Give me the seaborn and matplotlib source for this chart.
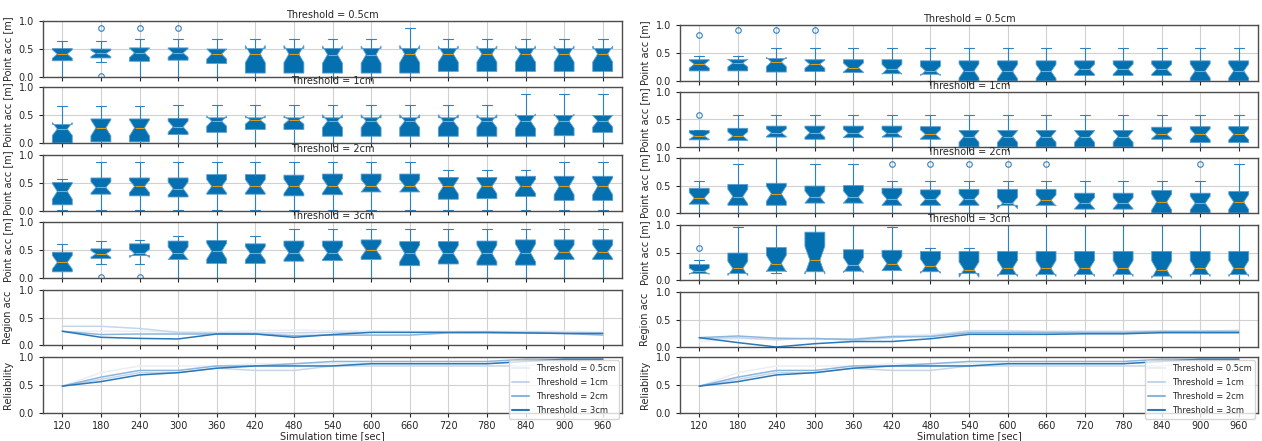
import numpy as np
import pandas as pd
import matplotlib
matplotlib.use("Agg")
import matplotlib.pyplot as plt
import seaborn as sns

# ---------------- data ----------------
times = [120, 180, 240, 300, 360, 420, 480, 540, 600, 660, 720, 780, 840, 900, 960]
thresholds = ["Threshold = 0.5cm", "Threshold = 1cm", "Threshold = 2cm", "Threshold = 3cm"]

# Left panel box statistics (rows: 0.5cm, 1cm, 2cm, 3cm)
left_whislo = [
    [0, 0.27, 0, 0, 0, 0, 0, 0, 0, 0, 0, 0, 0, 0, 0],
    [0, 0, 0, 0, 0, 0, 0, 0, 0, 0, 0, 0, 0, 0, 0],
    [0.01] * 15,
    [0, 0.25, 0.25, 0, 0, 0, 0, 0, 0, 0, 0, 0, 0, 0, 0],
]
left_q1 = [
    [0.29, 0.34, 0.28, 0.30, 0.24, 0.07, 0.07, 0.07, 0.07, 0.07, 0.10, 0.10, 0.10, 0.10, 0.10],
    [0.00, 0.02, 0.02, 0.15, 0.19, 0.24, 0.24, 0.12, 0.12, 0.12, 0.12, 0.12, 0.12, 0.13, 0.19],
    [0.11, 0.30, 0.27, 0.25, 0.30, 0.30, 0.27, 0.29, 0.34, 0.34, 0.21, 0.22, 0.26, 0.19, 0.19],
    [0.11, 0.35, 0.40, 0.33, 0.26, 0.26, 0.30, 0.31, 0.33, 0.22, 0.25, 0.23, 0.23, 0.33, 0.33],
]
left_med = [
    [0.41, 0.42, 0.43, 0.43, 0.41, 0.41, 0.41, 0.40, 0.40, 0.41, 0.41, 0.41, 0.41, 0.41, 0.41],
    [0.25, 0.27, 0.27, 0.29, 0.39, 0.41, 0.41, 0.39, 0.39, 0.39, 0.39, 0.39, 0.39, 0.39, 0.39],
    [0.35, 0.42, 0.44, 0.40, 0.44, 0.44, 0.44, 0.45, 0.45, 0.45, 0.44, 0.44, 0.44, 0.44, 0.44],
    [0.28, 0.43, 0.44, 0.44, 0.48, 0.44, 0.45, 0.45, 0.50, 0.44, 0.44, 0.44, 0.45, 0.47, 0.47],
]
left_q3 = [
    [0.51, 0.50, 0.52, 0.52, 0.50, 0.51, 0.51, 0.51, 0.51, 0.51, 0.51, 0.51, 0.51, 0.51, 0.51],
    [0.33, 0.43, 0.43, 0.44, 0.45, 0.45, 0.45, 0.45, 0.45, 0.45, 0.45, 0.45, 0.49, 0.49, 0.49],
    [0.51, 0.59, 0.59, 0.59, 0.65, 0.65, 0.64, 0.66, 0.66, 0.66, 0.60, 0.60, 0.62, 0.62, 0.62],
    [0.46, 0.52, 0.61, 0.66, 0.67, 0.61, 0.66, 0.66, 0.68, 0.65, 0.65, 0.66, 0.68, 0.68, 0.68],
]
left_whishi = [
    [0.65, 0.64, 0.68, 0.68, 0.68, 0.68, 0.68, 0.68, 0.68, 0.87, 0.68, 0.68, 0.68, 0.68, 0.68],
    [0.66, 0.66, 0.66, 0.68, 0.68, 0.68, 0.68, 0.68, 0.68, 0.68, 0.68, 0.68, 0.87, 0.87, 0.87],
    [0.58, 0.87, 0.87, 0.87, 0.87, 0.87, 0.87, 0.87, 0.87, 0.87, 0.74, 0.74, 0.74, 0.87, 0.87],
    [0.60, 0.66, 0.68, 0.75, 1.00, 0.75, 0.87, 0.87, 0.87, 0.87, 0.87, 0.87, 0.87, 0.87, 0.87],
]
left_fliers = [
    [[], [0.87, 0.02], [0.87], [0.87], [], [], [], [], [], [], [], [], [], [], []],
    [[]] * 15,
    [[]] * 15,
    [[], [0.02], [0.02], [], [], [], [], [], [], [], [], [], [], [], []],
]

# Right panel box statistics (rows: 0.5cm, 1cm, 2cm, 3cm)
right_whislo = [
    [0] * 15,
    [0] * 15,
    [0] * 15,
    [0, 0, 0.13, 0, 0, 0, 0, 0, 0, 0, 0, 0, 0, 0, 0],
]
right_q1 = [
    [0.18, 0.18, 0.16, 0.17, 0.15, 0.13, 0.12, 0.00, 0.00, 0.00, 0.10, 0.10, 0.10, 0.00, 0.00],
    [0.13, 0.12, 0.18, 0.14, 0.17, 0.18, 0.14, 0.00, 0.00, 0.00, 0.00, 0.00, 0.14, 0.08, 0.08],
    [0.16, 0.14, 0.14, 0.18, 0.18, 0.14, 0.14, 0.14, 0.14, 0.14, 0.07, 0.07, 0.00, 0.00, 0.00],
    [0.12, 0.12, 0.16, 0.15, 0.16, 0.17, 0.15, 0.12, 0.10, 0.10, 0.10, 0.10, 0.07, 0.10, 0.10],
]
right_med = [
    [0.30, 0.32, 0.34, 0.30, 0.24, 0.21, 0.18, 0.18, 0.17, 0.17, 0.21, 0.21, 0.21, 0.18, 0.18],
    [0.20, 0.20, 0.26, 0.26, 0.25, 0.25, 0.23, 0.19, 0.19, 0.19, 0.19, 0.19, 0.23, 0.23, 0.23],
    [0.27, 0.30, 0.35, 0.29, 0.29, 0.25, 0.25, 0.25, 0.18, 0.23, 0.18, 0.18, 0.20, 0.18, 0.20],
    [0.16, 0.21, 0.30, 0.36, 0.27, 0.30, 0.25, 0.19, 0.21, 0.21, 0.21, 0.21, 0.19, 0.21, 0.21],
]
right_q3 = [
    [0.38, 0.38, 0.40, 0.38, 0.38, 0.38, 0.36, 0.36, 0.36, 0.36, 0.36, 0.36, 0.36, 0.36, 0.36],
    [0.30, 0.34, 0.38, 0.38, 0.38, 0.38, 0.37, 0.30, 0.30, 0.30, 0.30, 0.30, 0.36, 0.37, 0.37],
    [0.45, 0.52, 0.54, 0.49, 0.50, 0.45, 0.42, 0.43, 0.43, 0.43, 0.36, 0.36, 0.41, 0.36, 0.39],
    [0.28, 0.49, 0.59, 0.87, 0.55, 0.54, 0.52, 0.52, 0.52, 0.52, 0.52, 0.52, 0.52, 0.52, 0.52],
]
right_whishi = [
    [0.44, 0.44, 0.59, 0.59, 0.59, 0.59, 0.59, 0.59, 0.59, 0.59, 0.59, 0.59, 0.59, 0.59, 0.59],
    [0.30, 0.58, 0.58, 0.58, 0.58, 0.58, 0.58, 0.58, 0.58, 0.58, 0.58, 0.58, 0.58, 0.58, 0.58],
    [0.58, 0.89, 1.00, 0.89, 0.89, 0.58, 0.58, 0.58, 0.58, 0.58, 0.58, 0.58, 0.58, 0.58, 0.89],
    [0.36, 0.96, 1.00, 1.00, 1.00, 0.96, 0.59, 0.59, 1.00, 1.00, 1.00, 1.00, 1.00, 1.00, 1.00],
]
right_fliers = [
    [[0.82], [0.91], [0.91], [0.91], [], [], [], [], [], [], [], [], [], [], []],
    [[0.58], [], [], [], [], [], [], [], [], [], [], [], [], [], []],
    [[], [], [], [], [], [0.89], [0.89], [0.89], [0.89], [0.89], [], [], [], [0.89], []],
    [[0.59], [], [], [], [], [], [], [], [], [], [], [], [], [], []],
]

# Region accuracy lines
left_region_05 = [0.24, 0.25, 0.25, 0.23, 0.24, 0.26, 0.27, 0.26, 0.26, 0.25, 0.25, 0.25, 0.25, 0.25, 0.24]
left_region_1 = [0.34, 0.34, 0.30, 0.23, 0.22, 0.22, 0.22, 0.23, 0.23, 0.23, 0.23, 0.24, 0.24, 0.23, 0.22]
left_region_2 = [0.25, 0.19, 0.20, 0.20, 0.20, 0.20, 0.17, 0.18, 0.18, 0.18, 0.22, 0.22, 0.22, 0.21, 0.18]
left_region_3 = [0.25, 0.14, 0.12, 0.11, 0.20, 0.20, 0.14, 0.19, 0.23, 0.23, 0.23, 0.23, 0.22, 0.21, 0.21]

right_region_05 = [0.10, 0.15, 0.14, 0.15, 0.15, 0.20, 0.23, 0.30, 0.30, 0.29, 0.29, 0.29, 0.29, 0.29, 0.29]
right_region_1 = [0.15, 0.17, 0.13, 0.16, 0.12, 0.17, 0.20, 0.29, 0.29, 0.28, 0.28, 0.28, 0.29, 0.29, 0.30]
right_region_2 = [0.17, 0.20, 0.16, 0.15, 0.14, 0.19, 0.19, 0.26, 0.26, 0.26, 0.26, 0.26, 0.28, 0.28, 0.28]
right_region_3 = [0.17, 0.08, 0.00, 0.06, 0.10, 0.10, 0.15, 0.23, 0.23, 0.23, 0.24, 0.24, 0.26, 0.26, 0.26]

# Reliability lines (same in both panels)
reliability_05 = [0.48, 0.72, 0.84, 0.84, 0.84, 0.88, 0.88, 0.88, 0.88, 0.88, 0.88, 0.88, 0.92, 0.96, 0.96]
reliability_1 = [0.48, 0.60, 0.72, 0.72, 0.80, 0.76, 0.76, 0.84, 0.84, 0.84, 0.84, 0.84, 0.84, 0.92, 0.96]
reliability_2 = [0.48, 0.64, 0.76, 0.76, 0.84, 0.84, 0.88, 0.92, 0.92, 0.92, 0.92, 0.92, 0.96, 0.96, 0.96]
reliability_3 = [0.48, 0.56, 0.68, 0.72, 0.80, 0.84, 0.84, 0.84, 0.88, 0.88, 0.88, 0.88, 0.92, 0.96, 0.96]

# ---------------- style ----------------
sns.set_style("whitegrid", {
    "axes.edgecolor": "0.3",
    "grid.color": "0.82",
    "xtick.bottom": True,
    "ytick.left": True,
})
plt.rcParams.update({
    "font.family": ["DejaVu Sans"],
    "font.size": 7,
    "axes.titlesize": 7,
    "axes.labelsize": 7,
    "xtick.labelsize": 7,
    "ytick.labelsize": 7,
    "legend.fontsize": 6,
    "axes.linewidth": 1.0,
    "grid.linewidth": 0.8,
    "xtick.major.size": 3,
    "ytick.major.size": 3,
    "xtick.major.pad": 2.5,
    "xtick.major.width": 0.8,
    "ytick.major.width": 0.8,
    "xtick.color": "0.15",
    "ytick.color": "0.15",
})

BOX_COLOR = "#0570b0"
EDGE_COLOR = "#5d9fd0"
WHISKER_COLOR = "#2f82c0"
MEDIAN_COLOR = "#dc9a1c"
line_colors = ["#eceef6", "#c6d6ea", "#8cb6dc", "#2a78b8"]

W, H = 1262, 441
fig = plt.figure(figsize=(W / 100, H / 100), dpi=100)

left_rows = [(21, 77), (87, 143), (155, 211), (222, 278), (290, 345), (357, 413)]
right_rows = [(25, 81), (92, 147), (158, 213), (225, 280), (292, 347), (357, 413)]


def make_axes(x0, x1, rows):
    axes = []
    for top, bot in rows:
        axes.append(fig.add_axes([x0 / W, 1 - bot / H, (x1 - x0) / W, (bot - top) / H]))
    return axes


def box_stats(whislo, q1, med, q3, whishi, fliers):
    stats = []
    for lo, a, m, b, hi, fl in zip(whislo, q1, med, q3, whishi, fliers):
        half = 1.57 * (b - a) / np.sqrt(20)
        stats.append(dict(whislo=lo, q1=a, med=m, q3=b, whishi=hi,
                          fliers=np.array(fl), cilo=m - half, cihi=m + half))
    return stats


def draw_panel(x0, x1, rows, whislo, q1, med, q3, whishi, fliers, region, rel):
    axes = make_axes(x0, x1, rows)
    for i in range(4):
        ax = axes[i]
        ax.bxp(box_stats(whislo[i], q1[i], med[i], q3[i], whishi[i], fliers[i]),
               positions=times, widths=31, shownotches=True, patch_artist=True,
               manage_ticks=False,
               boxprops=dict(facecolor=BOX_COLOR, edgecolor=EDGE_COLOR, linewidth=0.6),
               medianprops=dict(color=MEDIAN_COLOR, linewidth=0.8),
               whiskerprops=dict(color=WHISKER_COLOR, linewidth=0.8),
               capprops=dict(color=WHISKER_COLOR, linewidth=0.8),
               flierprops=dict(marker="o", markerfacecolor="none",
                               markeredgecolor=WHISKER_COLOR, markersize=4,
                               markeredgewidth=0.8))
        ax.set_title(thresholds[i], pad=2)
        ax.set_ylabel("Point acc [m]")

    for j, (series, label) in enumerate([(region, "Region acc"), (rel, "Reliability")]):
        ax = axes[4 + j]
        df = pd.DataFrame({
            "time": np.tile(times, 4),
            "value": np.concatenate(series),
            "thr": np.repeat(thresholds, len(times)),
        })
        sns.lineplot(data=df, x="time", y="value", hue="thr", hue_order=thresholds,
                     palette=line_colors, linewidth=1.1, errorbar=None, ax=ax,
                     legend=(j == 1))
        ax.set_ylabel(label)
        ax.set_xlabel("")
        if j == 1:
            sns.move_legend(ax, "upper right", bbox_to_anchor=(1.0, 1.0),
                            title=None, borderaxespad=0.4, fontsize=6,
                            labelspacing=0.62, frameon=True)
            for h in ax.get_legend().legend_handles:
                h.set_linewidth(1.5)
            ax.set_xlabel("Simulation time [sec]", labelpad=0.5)

    for k, ax in enumerate(axes):
        ax.set_xlim(90, 990)
        ax.set_ylim(0, 1.0)
        ax.set_yticks([0, 0.5, 1.0])
        ax.set_xticks(times)
        ax.set_axisbelow(True)
        ax.grid(True)
        if k < 5:
            ax.tick_params(labelbottom=False)
        else:
            ax.set_xticklabels([str(t) for t in times])
        for s in ax.spines.values():
            s.set_visible(True)
            s.set_color("0.3")
    return axes


draw_panel(43, 622, left_rows, left_whislo, left_q1, left_med, left_q3, left_whishi,
           left_fliers,
           [left_region_05, left_region_1, left_region_2, left_region_3],
           [reliability_05, reliability_1, reliability_2, reliability_3])
draw_panel(680, 1258, right_rows, right_whislo, right_q1, right_med, right_q3,
           right_whishi, right_fliers,
           [right_region_05, right_region_1, right_region_2, right_region_3],
           [reliability_05, reliability_1, reliability_2, reliability_3])

fig.savefig("out.png", dpi=100)
